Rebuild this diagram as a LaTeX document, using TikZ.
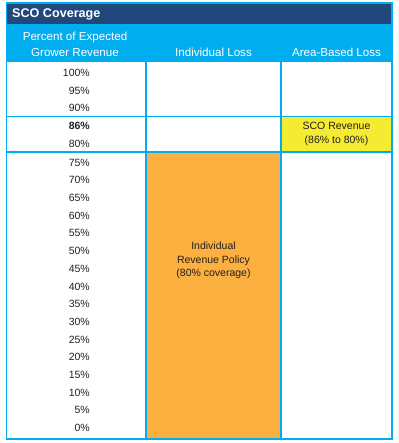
\documentclass[tikz,border=0pt]{standalone}
\usepackage{fontspec}
\setmainfont{Liberation Sans}
\definecolor{hdrdark}{RGB}{33,72,122}
\definecolor{hdrcyan}{RGB}{0,174,239}
\definecolor{gridcyan}{RGB}{0,174,239}
\definecolor{orangefill}{RGB}{251,176,64}
\definecolor{yellowfill}{RGB}{244,235,50}
\definecolor{txt}{RGB}{35,31,32}
\tikzset{
  pct/.style={anchor=east, font=\fontsize{10.5}{12}\selectfont, text=txt, inner sep=0pt},
  hdr/.style={font=\fontsize{11.6}{16}\selectfont, text=white, align=center, inner sep=0pt},
  body/.style={font=\fontsize{10.5}{13.7}\selectfont, text=txt, align=center, inner sep=0pt},
  grid/.style={draw=gridcyan, line width=1.3pt},
}
\begin{document}
\begin{tikzpicture}[x=1pt,y=-1pt]
\useasboundingbox (0,0) rectangle (398,443);
% header fills
\fill[hdrdark] (6.5,3) rectangle (392,24);
\fill[hdrcyan] (6.5,24) rectangle (392,62);
% cell fills
\fill[orangefill] (146,152) rectangle (281,439);
\fill[yellowfill] (281,116.5) rectangle (392,152);
% grid lines
\draw[grid] (146,62) -- (146,439);
\draw[grid] (281,62) -- (281,439);
\draw[grid] (6.5,116.5) -- (392,116.5);
\draw[grid] (6.5,152) -- (392,152);
\draw[grid] (6.5,3) rectangle (392,439);
% header texts
\node[font=\fontsize{12.6}{14}\selectfont\bfseries, text=white, anchor=west, inner sep=0pt] (title) at (12,14) {SCO Coverage};
\node[hdr] (h1) at (75,44) {Percent of Expected\\Grower Revenue};
\node[hdr] (h2) at (213.5,52) {Individual Loss};
\node[hdr] (h3) at (336.5,52) {Area-Based Loss};
% percentages
\node[pct] (p100) at (90,73) {100\%};
\node[pct] (p95) at (90,90.5) {95\%};
\node[pct] (p90) at (90,108) {90\%};
\node[pct, font=\fontsize{10.5}{12}\selectfont\bfseries] (p86) at (90,126) {86\%};
\node[pct] (p80) at (90,143.5) {80\%};
\foreach \v [count=\i from 0] in {75,70,65,60,55,50,45,40,35,30,25,20,15,10,5,0} {
  \node[pct] (p\v) at (90,162.5+17.7*\i) {\v\%};
}
% cell texts
\node[body] (sco) at (336.5,134) {SCO Revenue\\(86\% to 80\%)};
\node[body] (irp) at (213.5,260.5) {Individual\\Revenue Policy\\(80\% coverage)};
\end{tikzpicture}
\end{document}
